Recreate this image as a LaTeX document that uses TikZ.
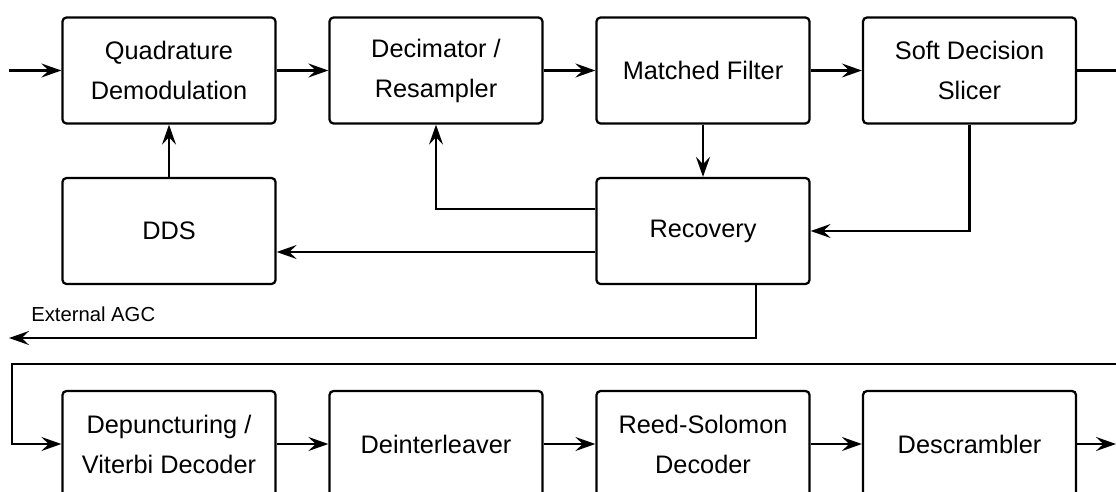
\documentclass[tikz,border=0pt]{standalone}
\usepackage{fontspec}
\setmainfont{Liberation Sans}
\usetikzlibrary{arrows.meta,calc}
\begin{document}
\begin{tikzpicture}[x=0.75pt,y=-0.75pt,
  blk/.style={draw,line width=1.7pt,rounded corners=3pt,minimum width=159.75pt,minimum height=79.5pt,
    align=center,inner sep=0pt,font=\fontsize{19}{30}\selectfont},
  conn/.style={line width=1.7pt},
  arr/.style={conn,-{Stealth[length=15pt,width=10.5pt,inset=5.5pt]}},
  lbl/.style={inner sep=0pt,font=\fontsize{15.2}{18}\selectfont}]
\useasboundingbox (0,0) rectangle (1116,492);
% row 1
\node[blk] (quad) at (169,70.5) {Quadrature\\Demodulation};
\node[blk] (dec) at (436,70.5) {Decimator /\\Resampler};
\node[blk] (mf) at (703,70.5) {Matched Filter};
\node[blk] (sds) at (969.5,70.5) {Soft Decision\\Slicer};
% row 2
\node[blk] (dds) at (169,231) {DDS};
\node[blk] (rec) at (703,231) {Recovery};
% row 3
\node[blk] (dep) at (169,444) {Depuncturing /\\Viterbi Decoder};
\node[blk] (dei) at (436,444) {Deinterleaver};
\node[blk] (rs) at (703,444) {Reed-Solomon\\Decoder};
\node[blk] (des) at (969.5,444) {Descrambler};
% free ends
\coordinate (in1) at (9,70.5);
\coordinate (out1) at (1116,70.5);
\coordinate (agc) at (9,338);
\coordinate (r0) at (1116,364);
\coordinate (r2) at (12,444);
\coordinate (out2) at (1116,444);
\node[lbl,anchor=base west] (agclabel) at (31,321.5) {External AGC};
% connectors
\draw[arr] (in1) -- (quad.west);
\draw[arr] (quad.east) -- (dec.west);
\draw[arr] (dec.east) -- (mf.west);
\draw[arr] (mf.east) -- (sds.west);
\draw[conn] (sds.east) -- (out1);
\draw[arr] (sds.south) |- (rec.east);
\draw[arr] (mf.south) -- (rec.north);
\draw[arr] ([yshift=16.5pt]rec.west) -| (dec.south);
\draw[arr] ([yshift=-15.75pt]rec.west) -- ([yshift=-15.75pt]dds.east);
\draw[arr] (dds.north) -- (quad.south);
\draw[arr] ([xshift=39.75pt]rec.south) |- (agc);
\draw[arr] (r0) -| (r2) -- (dep.west);
\draw[arr] (dep.east) -- (dei.west);
\draw[arr] (dei.east) -- (rs.west);
\draw[arr] (rs.east) -- (des.west);
\draw[arr] (des.east) -- (out2);
\end{tikzpicture}
\end{document}
